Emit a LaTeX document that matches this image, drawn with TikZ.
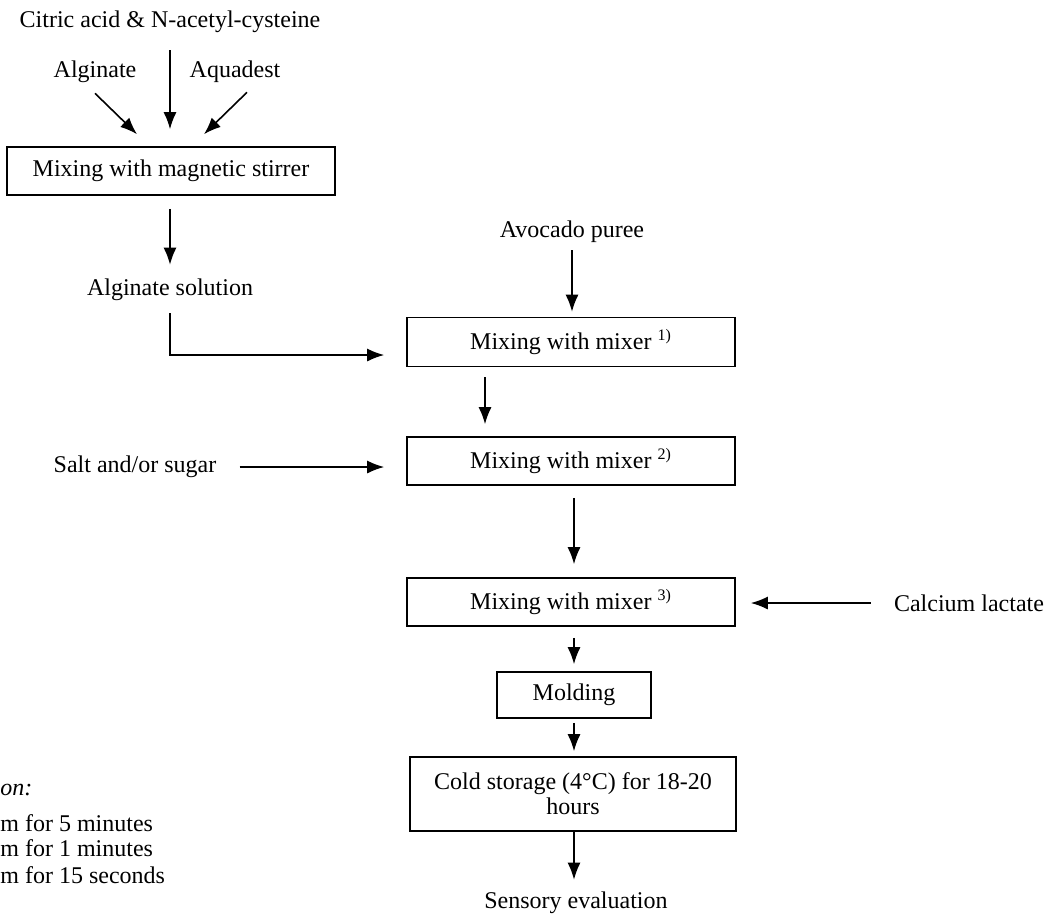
\documentclass[tikz,border=0pt]{standalone}
\usepackage{fontspec}
\setmainfont{Liberation Serif}
\usetikzlibrary{arrows.meta,positioning}

\begin{document}
\begin{tikzpicture}[x=0.5pt,y=-0.5pt,
    every node/.style={font=\fontsize{12}{12.5}\selectfont,inner sep=0pt},
    procbox/.style={draw,line width=0.8pt,minimum width=164pt,minimum height=24pt},
    arr/.style={-{Latex[length=8.5pt,width=6.5pt]},line width=0.8pt}]
  \useasboundingbox (0,0) rectangle (1050,918);
  % alginate solution
  \node (cit) at (170,22) {Citric acid \& N-acetyl-cysteine};
  \node (algi) at (95,72) {Alginate};
  \node (aqua) at (235,72) {Aquadest};
  \node[procbox] (mag) at (171,171) {Mixing with magnetic stirrer};
  \node (solu) at (170,290) {Alginate solution};
  \draw[arr,shorten <=8.5pt,shorten >=8.5pt] (cit.south) -- (cit.south |- mag.north);
  \draw[arr] ([yshift=-5pt]algi.south) -- ([xshift=-17pt,yshift=6pt]mag.north);
  \draw[arr] ([xshift=6pt,yshift=-4.5pt]aqua.south) -- ([xshift=16.5pt,yshift=6pt]mag.north);
  \draw[arr,shorten <=6.5pt,shorten >=7pt] (mag.south -| solu) -- (solu.north);
  % main line
  \node (avo) at (572,232) {Avocado puree};
  \node[procbox,minimum height=24.5pt] (mixA) at (571,342) {Mixing with mixer \textsuperscript{1)}};
  \node[procbox] (mixB) at (571,461) {Mixing with mixer \textsuperscript{2)}};
  \node (salt) at (135,467) {Salt and/or sugar};
  \node[procbox] (mixC) at (571,602) {Mixing with mixer \textsuperscript{3)}};
  \node (calc) at (969,603) {Calcium lactate};
  \node[procbox,minimum width=77pt,minimum height=23pt] (mold) at (574,695) {Molding};
  \node[procbox,minimum width=163pt,minimum height=37pt,align=center] (cold) at (573,794)
    {Cold storage (4°C) for 18-20\\hours};
  \node (sens) at (576,903) {Sensory evaluation};
  \draw[arr] ([yshift=-6pt]solu.south) |- ([xshift=-11pt,yshift=-6.5pt]mixA.west);
  \draw[arr,shorten <=3.5pt,shorten >=2.5pt] (avo.south) -- (avo.south |- mixA.north);
  \draw[arr] ([xshift=-43pt,yshift=-5pt]mixA.south) -- ([xshift=-43pt,yshift=6pt]mixB.north);
  \draw[arr,shorten <=11.5pt,shorten >=11pt] (salt.east) -- (salt.east -| mixB.west);
  \draw[arr,shorten <=6pt,shorten >=6.5pt] (mixB.south -| mold) -- (mixC.north -| mold);
  \draw[arr,shorten <=11.5pt,shorten >=7.5pt] (calc.west) -- (calc.west -| mixC.east);
  \draw[arr,shorten <=5.5pt,shorten >=3.5pt] (mixC.south -| mold) -- (mold.north);
  \draw[arr,shorten <=2pt,shorten >=2.5pt] (mold.south) -- (mold.south |- cold.north);
  \draw[arr,shorten >=6pt] (cold.south -| mold) -- (mold |- sens.north);
  % notes
  \node[anchor=west] (cond) at (0,790) {\textit{on:}};
  \node[anchor=west] (rpmA) at (0,823) {m for 5 minutes};
  \node[anchor=west] (rpmB) at (0,848) {m for 1 minutes};
  \node[anchor=west] (rpmC) at (0,875) {m for 15 seconds};
\end{tikzpicture}
\end{document}
